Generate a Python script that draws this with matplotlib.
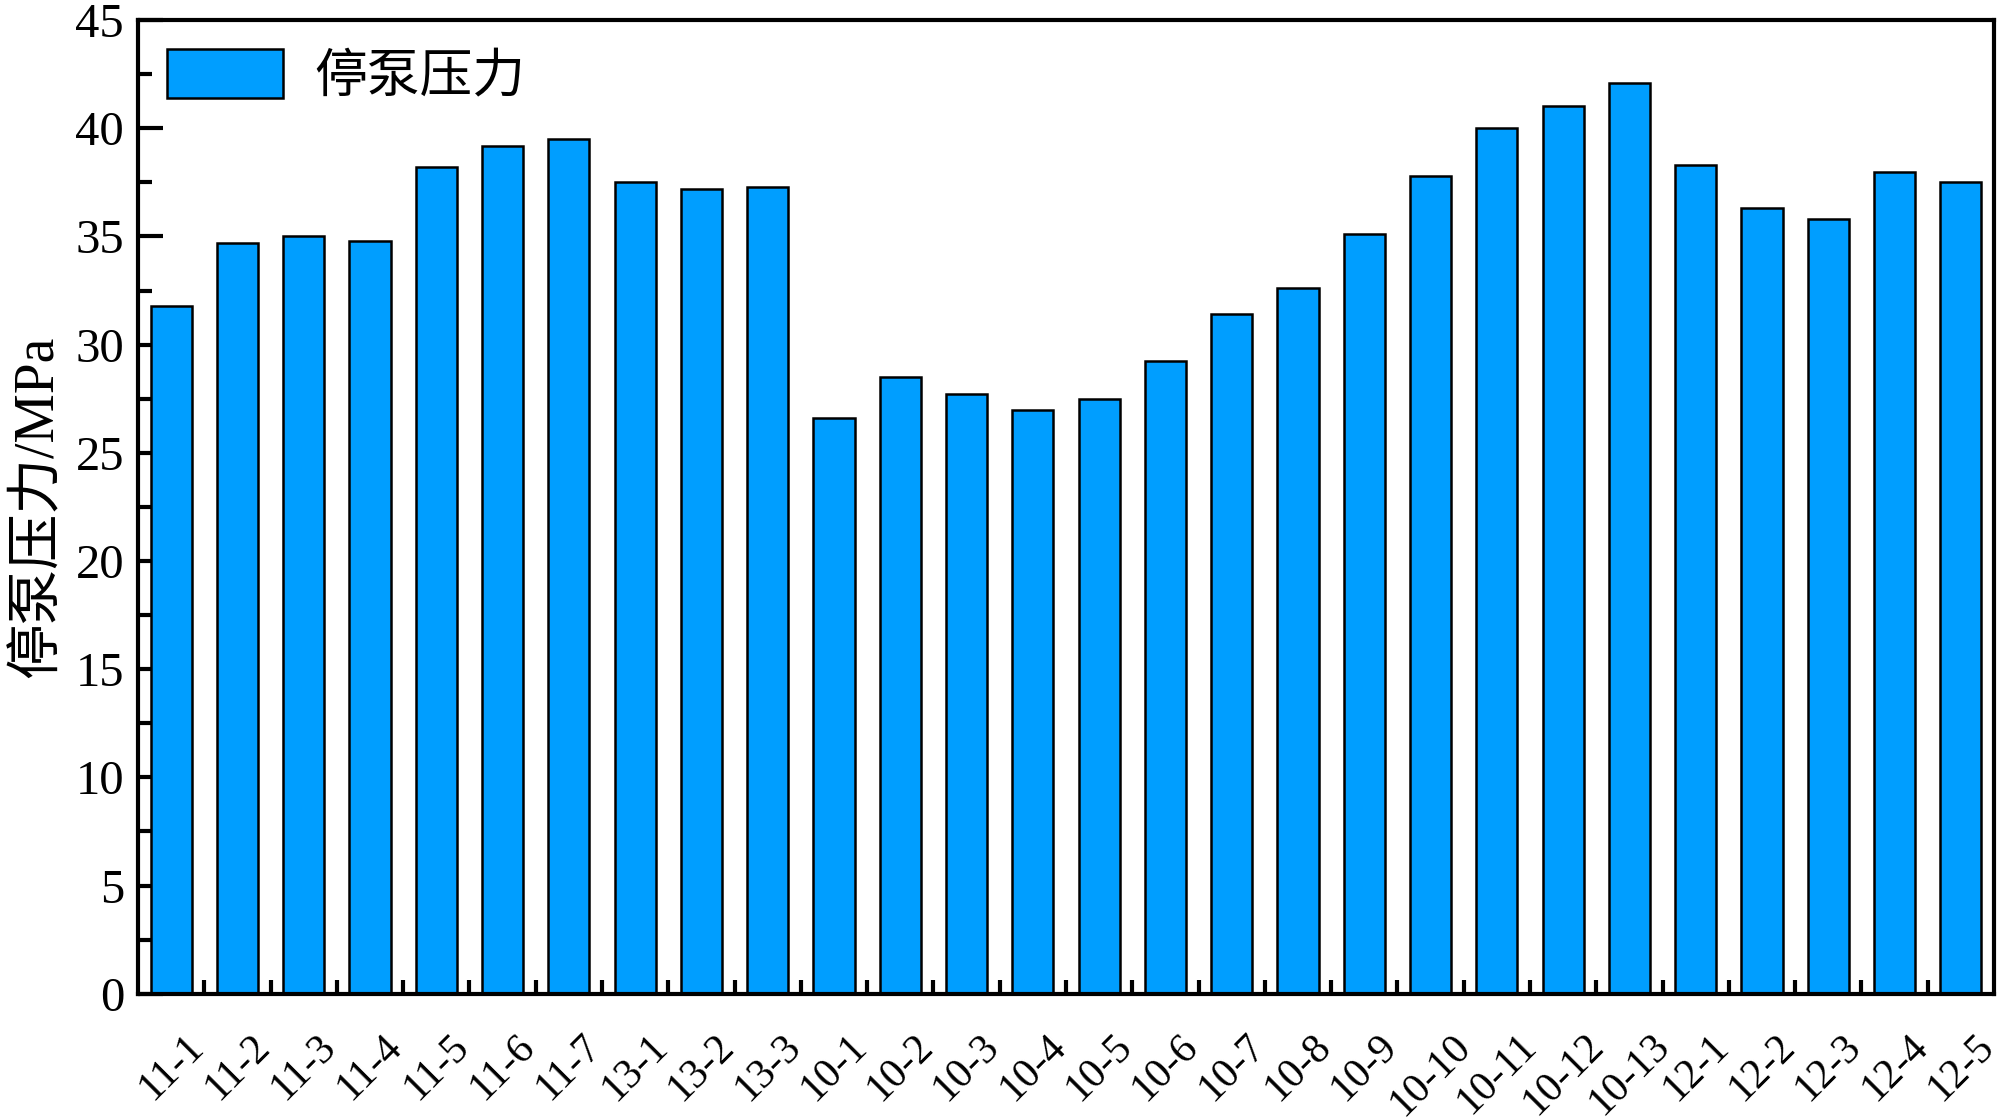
import numpy as np
import matplotlib
matplotlib.use("Agg")
import matplotlib.pyplot as plt
from matplotlib.ticker import MultipleLocator, FixedLocator

plt.rcParams['font.family'] = ['Liberation Serif', 'Noto Sans CJK SC']

# data
wells = ['11-1', '11-2', '11-3', '11-4', '11-5', '11-6', '11-7',
         '13-1', '13-2', '13-3',
         '10-1', '10-2', '10-3', '10-4', '10-5', '10-6', '10-7', '10-8',
         '10-9', '10-10', '10-11', '10-12', '10-13',
         '12-1', '12-2', '12-3', '12-4', '12-5']
pressure = [31.8, 34.7, 35.0, 34.8, 38.2, 39.2, 39.5,
            37.5, 37.2, 37.3,
            26.6, 28.5, 27.7, 27.0, 27.5, 29.25, 31.4, 32.6,
            35.1, 37.8, 40.0, 41.05, 42.1,
            38.3, 36.3, 35.8, 38.0, 37.5]

fig = plt.figure(figsize=(20, 11.19), dpi=100)
ax = fig.add_axes([0.069, 0.112, 0.928, 0.870])

x = np.arange(len(wells))
ax.bar(x, pressure, width=0.62, color='#009EFF', edgecolor='black',
       linewidth=1.8, label='停泵压力', zorder=2)

ax.set_xlim(-0.5, len(wells) - 0.5)
ax.set_ylim(0, 45)
ax.yaxis.set_major_locator(MultipleLocator(5))
ax.yaxis.set_minor_locator(MultipleLocator(2.5))
ax.set_xticks(x)
ax.xaxis.set_minor_locator(FixedLocator(x[:-1] + 0.5))
ax.set_xticklabels(wells, rotation=45, ha='center', va='top', fontsize=30)
ax.tick_params(axis='y', labelsize=35)
ax.tick_params(which='major', direction='in', length=18, width=3, zorder=3)
ax.tick_params(which='minor', direction='in', length=10, width=3)
ax.tick_params(axis='x', which='major', pad=24)
ax.tick_params(axis='y', which='major', pad=10)

for s in ax.spines.values():
    s.set_linewidth(3)
    s.set_zorder(4)

ax.set_ylabel('停泵压力/MPa', fontsize=40, labelpad=8)

ax.legend(loc='upper left', frameon=False, fontsize=38,
          handlelength=2.2, handleheight=1.05, borderaxespad=0.15,
          handletextpad=0.6)

fig.savefig('out.png', dpi=100)
